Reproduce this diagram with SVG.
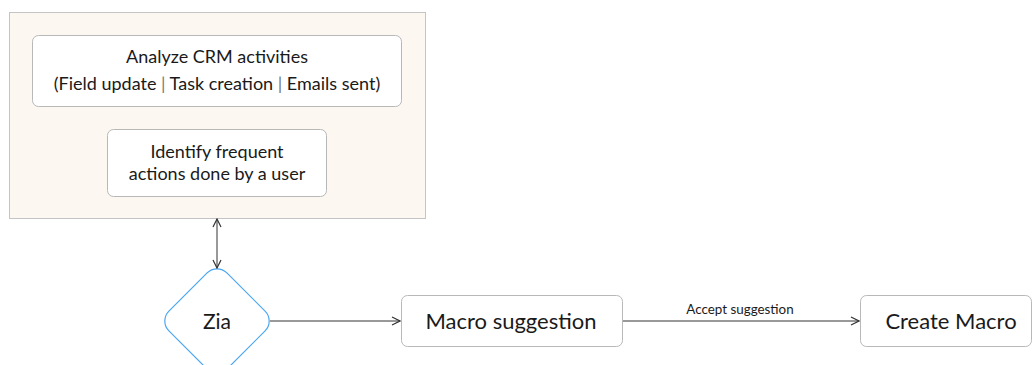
<svg xmlns="http://www.w3.org/2000/svg" width="1032" height="365" viewBox="0 0 1032 365">
<style>
text{font-family:Lato,"Open Sans","Liberation Sans",sans-serif;fill:#1a1a1a;text-anchor:middle;dominant-baseline:central}
.box{fill:#fff;stroke:#b8b8b8;stroke-width:1}
.edge{stroke:#333;stroke-width:1;fill:none}
.sep{fill:#777}
</style>
<defs>
<marker id="arr" viewBox="0 0 10 10" refX="9" refY="5" markerWidth="10" markerHeight="10" markerUnits="userSpaceOnUse" orient="auto-start-reverse">
<path d="M1,1 L9,5 L1,9" fill="none" stroke="#333" stroke-width="1.2"/>
</marker>
</defs>
<g id="container">
<rect x="9.5" y="12.5" width="416" height="206" fill="#fcf7f1" stroke="#c4c4c4"/>
</g>
<g id="analyze">
<rect class="box" x="32.5" y="35.5" width="369" height="71" rx="6"/>
<text x="217" y="56" font-size="18">Analyze CRM activities</text>
<text x="217" y="83" font-size="18">(Field update <tspan class="sep">|</tspan> Task creation <tspan class="sep">|</tspan> Emails sent)</text>
</g>
<g id="identify">
<rect class="box" x="107.5" y="129.5" width="219" height="67" rx="6"/>
<text x="217" y="151" font-size="18">Identify frequent</text>
<text x="217" y="173" font-size="18">actions done by a user</text>
</g>
<g id="zia">
<rect x="176" y="280" width="82" height="82" rx="14" transform="rotate(45 217 321)" fill="#fff" stroke="#4aa6f2" stroke-width="1.2"/>
<text x="217" y="320" font-size="21">Zia</text>
</g>
<g id="macro-suggestion">
<rect class="box" x="401.5" y="295.5" width="221" height="51" rx="6"/>
<text x="511" y="320" font-size="22">Macro suggestion</text>
</g>
<g id="create-macro">
<rect class="box" x="860.5" y="295.5" width="171" height="51" rx="6"/>
<text x="951" y="320" font-size="22">Create Macro</text>
</g>
<g id="connectors">
<line class="edge" x1="217" y1="219" x2="217" y2="268" marker-start="url(#arr)" marker-end="url(#arr)"/>
<line class="edge" x1="270" y1="321" x2="400" y2="321" marker-end="url(#arr)"/>
<line class="edge" x1="623" y1="321" x2="859" y2="321" marker-end="url(#arr)"/>
<text x="740" y="309" font-size="13.4">Accept suggestion</text>
</g>
</svg>
